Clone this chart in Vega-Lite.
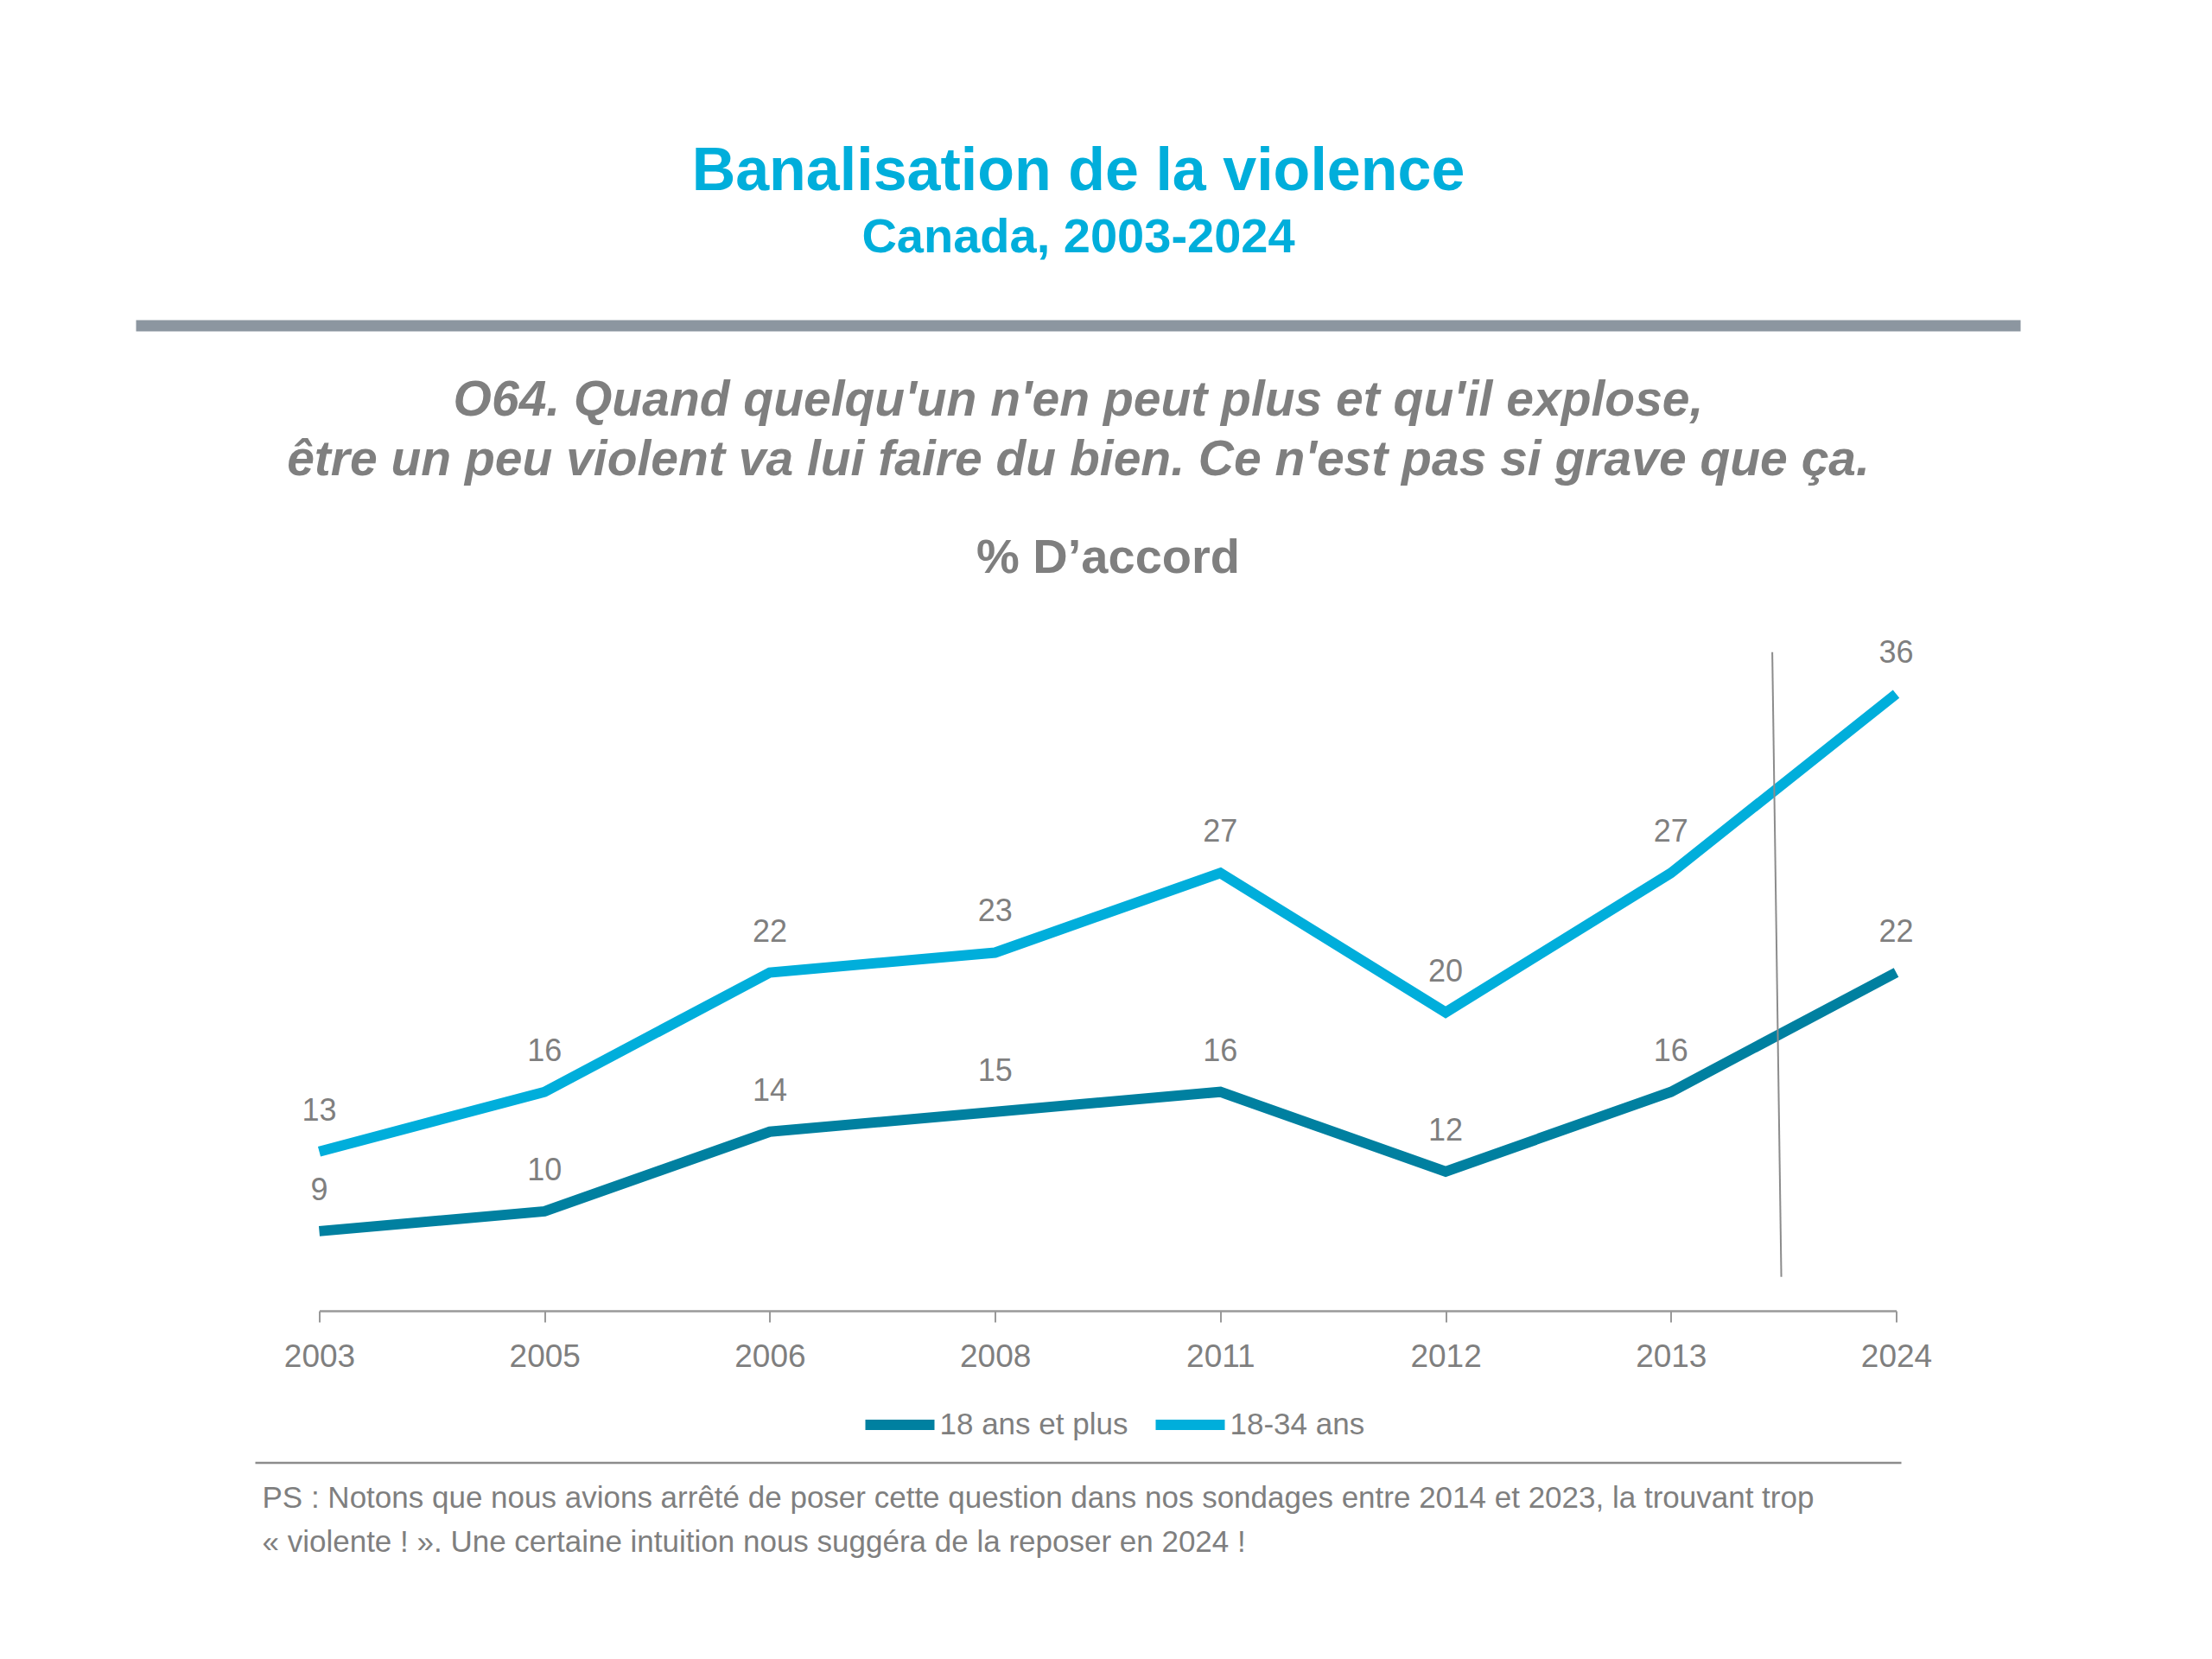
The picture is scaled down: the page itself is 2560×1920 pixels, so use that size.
{
  "$schema": "https://vega.github.io/schema/vega-lite/v6.json",
  "background": "#ffffff",
  "padding": {"left": 150.5, "top": 163, "right": 20, "bottom": 20},
  "datasets": {
    "survey": [
      {"year": "2003", "groupe": "18 ans et plus", "pct": 9},
      {"year": "2005", "groupe": "18 ans et plus", "pct": 10},
      {"year": "2006", "groupe": "18 ans et plus", "pct": 14},
      {"year": "2008", "groupe": "18 ans et plus", "pct": 15},
      {"year": "2011", "groupe": "18 ans et plus", "pct": 16},
      {"year": "2012", "groupe": "18 ans et plus", "pct": 12},
      {"year": "2013", "groupe": "18 ans et plus", "pct": 16},
      {"year": "2024", "groupe": "18 ans et plus", "pct": 22},
      {"year": "2003", "groupe": "18-34 ans", "pct": 13},
      {"year": "2005", "groupe": "18-34 ans", "pct": 16},
      {"year": "2006", "groupe": "18-34 ans", "pct": 22},
      {"year": "2008", "groupe": "18-34 ans", "pct": 23},
      {"year": "2011", "groupe": "18-34 ans", "pct": 27},
      {"year": "2012", "groupe": "18-34 ans", "pct": 20},
      {"year": "2013", "groupe": "18-34 ans", "pct": 27},
      {"year": "2024", "groupe": "18-34 ans", "pct": 36}
    ],
    "separateur": [
      {"pos": 6.45, "pct": 38.1},
      {"pos": 6.49, "pct": 6.7}
    ]
  },
  "title": {
    "text": "Banalisation de la violence",
    "subtitle": "Canada, 2003-2024",
    "font": "Liberation Sans",
    "fontSize": 70,
    "fontWeight": "bold",
    "color": "#00AEDB",
    "subtitleFont": "Liberation Sans",
    "subtitleFontSize": 56,
    "subtitleFontWeight": "bold",
    "subtitleColor": "#00AEDB",
    "subtitlePadding": 13,
    "offset": 67,
    "anchor": "middle"
  },
  "bounds": "flush",
  "center": true,
  "spacing": 176,
  "resolve": {"legend": {"color": "independent"}},
  "vconcat": [
    {
      "width": 2181,
      "height": 158,
      "data": {"values": [{"v": 1}]},
      "mark": {"type": "rule", "color": "#8C96A0", "strokeWidth": 13},
      "encoding": {
        "y": {"field": "v", "type": "quantitative", "scale": {"domain": [0, 1]}, "axis": null}
      }
    },
    {
      "width": 2181,
      "height": 806,
      "title": {
        "text": [
          "O64. Quand quelqu'un n'en peut plus et qu'il explose,",
          "être un peu violent va lui faire du bien. Ce n'est pas si grave que ça."
        ],
        "font": "Liberation Sans",
        "fontSize": 57,
        "fontStyle": "italic",
        "fontWeight": "bold",
        "color": "#7F7F7F",
        "lineHeight": 69,
        "offset": 55,
        "frame": "group",
        "anchor": "middle"
      },
      "encoding": {
        "y": {
          "field": "pct",
          "type": "quantitative",
          "scale": {"domain": [5, 40], "nice": false, "zero": false},
          "axis": null
        }
      },
      "layer": [
        {
          "data": {"name": "survey"},
          "mark": {"type": "line", "strokeWidth": 12},
          "encoding": {
            "x": {
              "field": "year",
              "type": "ordinal",
              "scale": {"type": "point", "padding": 0, "range": [212, 2037]},
              "axis": {
                "title": null,
                "labelAngle": 0,
                "labelFont": "Liberation Sans",
                "labelFontSize": 37,
                "labelColor": "#7F7F7F",
                "labelPadding": 22,
                "tickSize": 13,
                "tickWidth": 2,
                "tickColor": "#999999",
                "domainColor": "#999999",
                "domainWidth": 2.5,
                "grid": false
              }
            },
            "color": {
              "field": "groupe",
              "type": "nominal",
              "scale": {"domain": ["18 ans et plus", "18-34 ans"], "range": ["#0080A0", "#00AEDB"]},
              "legend": {
                "orient": "none",
                "legendX": 838,
                "legendY": 892,
                "direction": "horizontal",
                "title": null,
                "symbolType": "stroke",
                "symbolSize": 6400,
                "symbolStrokeWidth": 12,
                "labelFont": "Liberation Sans",
                "labelFontSize": 35,
                "labelColor": "#7F7F7F",
                "labelOffset": 0,
                "labelLimit": 600,
                "columnPadding": 8,
                "padding": 0
              }
            }
          }
        },
        {
          "data": {"name": "survey"},
          "mark": {
            "type": "text",
            "dy": -47,
            "baseline": "middle",
            "font": "Liberation Sans",
            "fontSize": 36,
            "color": "#7F7F7F"
          },
          "encoding": {
            "x": {"field": "year", "type": "ordinal", "scale": {"type": "point", "padding": 0, "range": [212, 2037]}, "axis": null},
            "text": {"field": "pct", "type": "quantitative"}
          }
        },
        {
          "data": {"name": "separateur"},
          "mark": {"type": "line", "color": "#8C8C8C", "strokeWidth": 2},
          "encoding": {
            "x": {
              "field": "pos",
              "type": "quantitative",
              "scale": {"domain": [0, 7], "nice": false, "zero": false, "range": [212, 2037]},
              "axis": {
                "orient": "top",
                "title": "% D’accord",
                "labels": false,
                "ticks": false,
                "domain": false,
                "grid": false,
                "titleFont": "Liberation Sans",
                "titleFontSize": 56,
                "titleFontWeight": "bold",
                "titleColor": "#7F7F7F",
                "titlePadding": 37
              }
            }
          }
        }
      ],
      "resolve": {"scale": {"x": "independent"}, "axis": {"x": "independent"}}
    },
    {
      "width": 1905,
      "height": 1,
      "data": {"values": [{"v": 1}]},
      "mark": {"type": "rule", "color": "#8C8C8C", "strokeWidth": 2.5},
      "encoding": {
        "y": {"field": "v", "type": "quantitative", "scale": {"domain": [0, 1]}, "axis": null}
      },
      "title": {
        "text": [
          "PS : Notons que nous avions arrêté de poser cette question dans nos sondages entre 2014 et 2023, la trouvant trop",
          "« violente ! ». Une certaine intuition nous suggéra de la reposer en 2024 !"
        ],
        "orient": "bottom",
        "anchor": "start",
        "frame": "group",
        "font": "Liberation Sans",
        "fontSize": 35,
        "fontWeight": "normal",
        "color": "#7F7F7F",
        "lineHeight": 51,
        "offset": 23,
        "dx": 8
      }
    }
  ],
  "config": {
    "view": {"stroke": null}
  }
}
